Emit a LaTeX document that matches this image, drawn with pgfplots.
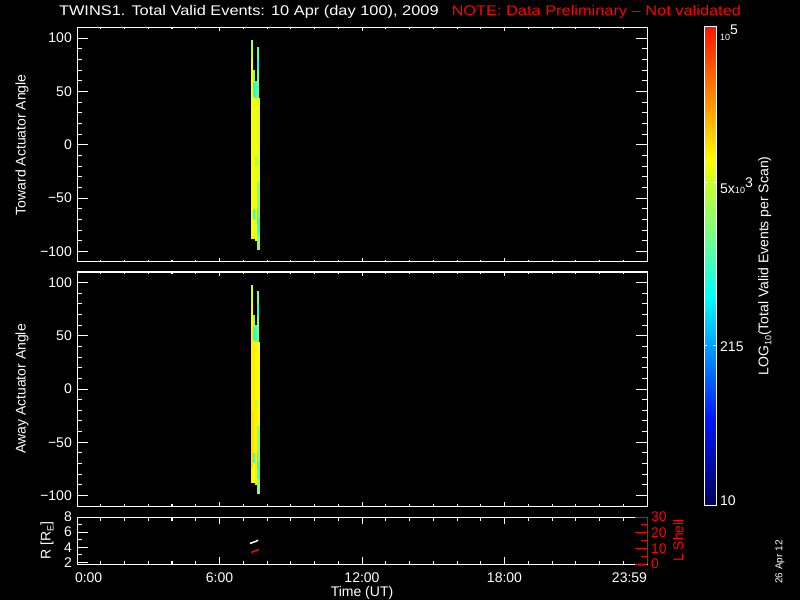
\documentclass[border=0pt]{standalone}
\usepackage{fontspec}
\setmainfont{Liberation Sans}
\usepackage{pgfplots}
\usepackage{pgfplotstable}
\pgfplotsset{compat=1.18}
\newcommand\sm{\fontsize{9}{10}\selectfont}
\pgfdeclareplotmark{seg}{%
  \pgfpathrectangle{\pgfpoint{-1pt}{-0.533pt*\segh}}{\pgfpoint{2pt}{1.066pt*\segh}}%
  \pgfusepathqfill}
\pgfplotsset{colormap={idl}{rgb255(0pt)=(0,0,90); rgb255(180pt)=(0,20,255); rgb255(300pt)=(0,130,255); rgb255(435pt)=(0,255,255); rgb255(570pt)=(120,255,130); rgb255(675pt)=(200,255,40); rgb255(720pt)=(255,255,0); rgb255(850pt)=(255,140,0); rgb255(1000pt)=(255,20,0)}}
% tick marks along the time axis (top and bottom): #1 major length, #2 minor length
\newcommand\timeticks[2]{%
  \foreach \tkt in {0,...,24} {%
    \pgfmathsetmacro\tkr{\tkt/24}%
    \pgfmathsetmacro\tkl{mod(\tkt,6)==0 ? #1 : #2}%
    \draw[white, line width=1pt] (rel axis cs:\tkr,0) -- ++(0,\tkl pt);
    \draw[white, line width=1pt] (rel axis cs:\tkr,1) -- ++(0,-\tkl pt);
  }}

% x: time (h), y: centre angle, h: segment height (deg), c: log10 counts
\pgfplotstableread{
x y h c
7.36 89 18 3.62
7.36 -4 168 3.86
7.44 64 12 3.30
7.44 51.5 13 2.85
7.44 -7.5 105 3.82
7.44 -65 10 2.95
7.44 -79 18 3.80
7.52 52 16 3.00
7.52 17 54 3.86
7.52 -15 10 3.60
7.52 -55 70 3.82
7.60 86 12 3.20
7.60 75 10 2.80
7.60 57 26 3.30
7.60 4.5 79 3.80
7.60 -47.5 25 3.40
7.60 -67.5 15 2.80
7.60 -87 24 3.30
7.68 4.5 79 3.76
7.68 -52 34 3.30
7.68 -77 16 2.85
7.68 -92 14 3.35
}\toward

\pgfplotstableread{
x y h c
7.36 89 18 3.70
7.36 70 20 3.90
7.36 20 80 3.95
7.36 -47 54 4.02
7.36 -81 14 3.85
7.44 64 12 3.35
7.44 51.5 13 2.90
7.44 -7.5 105 3.95
7.44 -65 10 3.00
7.44 -79 18 3.90
7.52 52 16 3.05
7.52 17 54 3.92
7.52 -15 10 3.70
7.52 -55 70 3.95
7.60 86 12 3.25
7.60 75 10 2.85
7.60 57 26 3.35
7.60 4.5 79 3.88
7.60 -47.5 25 3.45
7.60 -67.5 15 2.85
7.60 -87 24 3.35
7.68 4.5 79 3.85
7.68 -52 34 3.35
7.68 -77 16 2.90
7.68 -92 14 3.40
}\away

\begin{document}
\fontsize{14}{16}\selectfont
\begin{tikzpicture}[x=1pt,y=1pt]
\path[use as bounding box, fill=black] (0,0) rectangle (800,600);
\pgfplotsset{
  panel/.style={scale only axis, width=570pt, xmin=0, xmax=24, anchor=south west,
    axis line style={white, line width=1pt},
    tick style={white, line width=1pt},
    tick align=inside,
    tick label style={text=white, font=\fontsize{14}{16}\selectfont},
    /pgf/number format/assume math mode=true},
  xpanel/.style={xtick={0,6,12,18,24}, minor xtick={1,...,23}, xticklabels={},
    ytick={-500}, yticklabels={},
    major tick length=4pt, minor tick length=2pt,
    after end axis/.code={\timeticks{4}{2}}},
  ypanel/.style={xtick={-5}, xticklabels={}, ytick={-100,-50,0,50,100}, yticklabels={−100,−50,0,50,100},
    minor ytick={-100,-90,...,100}, major tick length=11pt, minor tick length=5pt,
    yticklabel style={anchor=east, inner sep=0pt, xshift=-5pt},
    every axis y label/.style={at={(axis description cs:-0.0965,0.5)}, rotate=90, anchor=center, text=white, font=\fontsize{14}{16}\selectfont},
    after end axis/.code={%
      \foreach \tkv in {-100,-90,...,100} {%
        \pgfmathsetmacro\tkl{mod(\tkv,50)==0 ? 11 : 5}%
        \draw[white, line width=1pt] (axis cs:0,\tkv) -- ++(\tkl pt,0);
        \draw[white, line width=1pt] (axis cs:24,\tkv) -- ++(-\tkl pt,0);
      }}},
  segs/.style={scatter, only marks, mark=seg, scatter src=explicit,
    visualization depends on={\thisrow{h}\as\segh}},
}

% ---------- top panel ----------
\begin{axis}[panel, xpanel, at={(77pt,338pt)}, height=234.5pt, ymin=-110, ymax=110,
  colormap name=idl, point meta min=1, point meta max=5]
\addplot[segs] table[x=x, y=y, meta=c] {\toward};
\end{axis}
\begin{axis}[panel, ypanel, at={(77pt,338pt)}, height=234.5pt, ymin=-110, ymax=110,
  ylabel={Toward Actuator Angle},
  title={\scalebox{1.17}[1]{TWINS1. Total Valid Events: 10 Apr (day 100), 2009\hspace{11pt}\textcolor{red}{NOTE: Data Preliminary – Not validated}}},
  title style={at={(axis description cs:0.5667,1)}, anchor=base, yshift=5.8pt, inner sep=0pt, text=white, font=\fontsize{14}{16}\selectfont}]
\end{axis}

% ---------- middle panel ----------
\begin{axis}[panel, xpanel, at={(77pt,94pt)}, height=234pt, ymin=-110, ymax=110,
  colormap name=idl, point meta min=1, point meta max=5]
\addplot[segs] table[x=x, y=y, meta=c] {\away};
\end{axis}
\begin{axis}[panel, ypanel, at={(77pt,94pt)}, height=234pt, ymin=-110, ymax=110,
  ylabel={Away Actuator Angle}]
\end{axis}

% ---------- bottom panel ----------
\begin{axis}[panel, at={(77pt,36pt)}, height=47pt, ymin=1.8, ymax=8,
  xtick={0,6,12,18,24}, minor xtick={1,...,23}, ytick={-5}, yticklabels={},
  xticklabels={\makebox[0pt][l]{\hspace{-2pt}0:00},6:00,12:00,18:00,\makebox[0pt][r]{23:59}},
  xticklabel style={anchor=north, inner sep=0pt, yshift=-9pt},
  major tick length=7pt, minor tick length=3.5pt,
  xlabel={Time (UT)},
  every axis x label/.style={at={(axis description cs:0.5,0)}, anchor=center, yshift=-29pt, text=white, font=\fontsize{14}{16}\selectfont},
  after end axis/.code={\timeticks{7}{3.5}}]
\addplot[white, line width=1.5pt] coordinates {(7.28,4.53) (7.36,4.58) (7.40,4.66) (7.48,4.72) (7.54,4.80) (7.58,4.88) (7.63,4.93)};
\end{axis}
\begin{axis}[panel, at={(77pt,36pt)}, height=47pt, ymin=1.8, ymax=8,
  xtick={-5}, xticklabels={}, ytick={2,4,6,8}, yticklabels={2,4,6,8}, minor ytick={3,5,7}, ytick pos=left,
  major tick length=11pt, minor tick length=5pt,
  yticklabel style={anchor=east, inner sep=0pt, xshift=-5pt},
  ylabel={R [R\raisebox{-3pt}{\sm E}]},
  every axis y label/.style={at={(axis description cs:-0.0526,0.5)}, rotate=90, anchor=center, text=white, font=\fontsize{14}{16}\selectfont},
  after end axis/.code={%
    \foreach \tkv in {2,...,8} {%
      \pgfmathsetmacro\tkl{mod(\tkv,2)==0 ? 11 : 5}%
      \draw[white, line width=1pt] (axis cs:0,\tkv) -- ++(\tkl pt,0);
    }}]
\end{axis}
\begin{axis}[scale only axis, width=570pt, height=47pt, anchor=south west, at={(77pt,36pt)},
  xmin=0, xmax=24, ymin=0, ymax=30,
  axis x line=none, axis y line*=right,
  axis line style={red, -, line width=1pt}, tick style={red, line width=1pt}, tick align=inside,
  ytick={0,10,20,30}, yticklabels={0,10,20,30}, minor ytick={5,15,25},
  major tick length=12pt, minor tick length=6pt,
  yticklabel style={anchor=west, inner sep=0pt, xshift=4pt, text=red, font=\fontsize{14}{16}\selectfont},
  ylabel={L Shell},
  every axis y label/.style={at={(axis description cs:1.0544,0.5)}, rotate=90, anchor=center, text=red, font=\fontsize{14}{16}\selectfont}]
\addplot[red, line width=1.5pt] coordinates {(7.33,7.45) (7.40,7.8) (7.46,8.2) (7.52,8.5) (7.58,8.9) (7.66,9.4)};
\end{axis}

% ---------- colour bar ----------
\begin{axis}[scale only axis, width=12pt, height=478pt, anchor=south west, at={(704pt,95pt)},
  xmin=0, xmax=1, ymin=1, ymax=5, axis on top,
  axis line style={white, line width=1pt},
  tick style={white, line width=1pt}, tick align=inside,
  colormap name=idl, point meta min=1, point meta max=5,
  xtick={-5}, xticklabels={}, ytick={1,2.3324,3.699,5},
  yticklabels={\raisebox{4pt}[\height][\depth]{10}, \raisebox{-1pt}[\height][\depth]{215}, \raisebox{-3pt}[\height][\depth]{5x{\sm 10}\raisebox{6pt}{3}}, \raisebox{-6pt}[\height][\depth]{{\sm 10}\raisebox{6pt}{5}}},
  yticklabel pos=right, major tick length=3pt,
  yticklabel style={anchor=west, inner sep=0pt, xshift=4pt, text=white, font=\fontsize{14}{16}\selectfont},
  ylabel={LOG\raisebox{-3pt}{\sm 10}(Total Valid Events per Scan)},
  every axis y label/.style={at={(axis description cs:5.08,0.5)}, rotate=90, anchor=center, text=white, font=\fontsize{14}{16}\selectfont},
  after end axis/.code={%
    \foreach \tkv in {2.3324,3.699} {%
      \draw[white, line width=1pt] (axis cs:0,\tkv) -- ++(3pt,0);
      \draw[white, line width=1pt] (axis cs:1,\tkv) -- ++(-3pt,0);
    }}]
\addplot[surf, shader=interp, point meta=y, mesh/rows=9, mesh/cols=2] coordinates {
(0,1) (1,1)
(0,1.72) (1,1.72)
(0,2.2) (1,2.2)
(0,2.74) (1,2.74)
(0,3.28) (1,3.28)
(0,3.7) (1,3.7)
(0,3.88) (1,3.88)
(0,4.4) (1,4.4)
(0,5) (1,5)
};
\end{axis}

\node[rotate=90, text=white, font=\fontsize{10}{12}\selectfont] at (780,38) {26 Apr 12};
\end{tikzpicture}
\end{document}
